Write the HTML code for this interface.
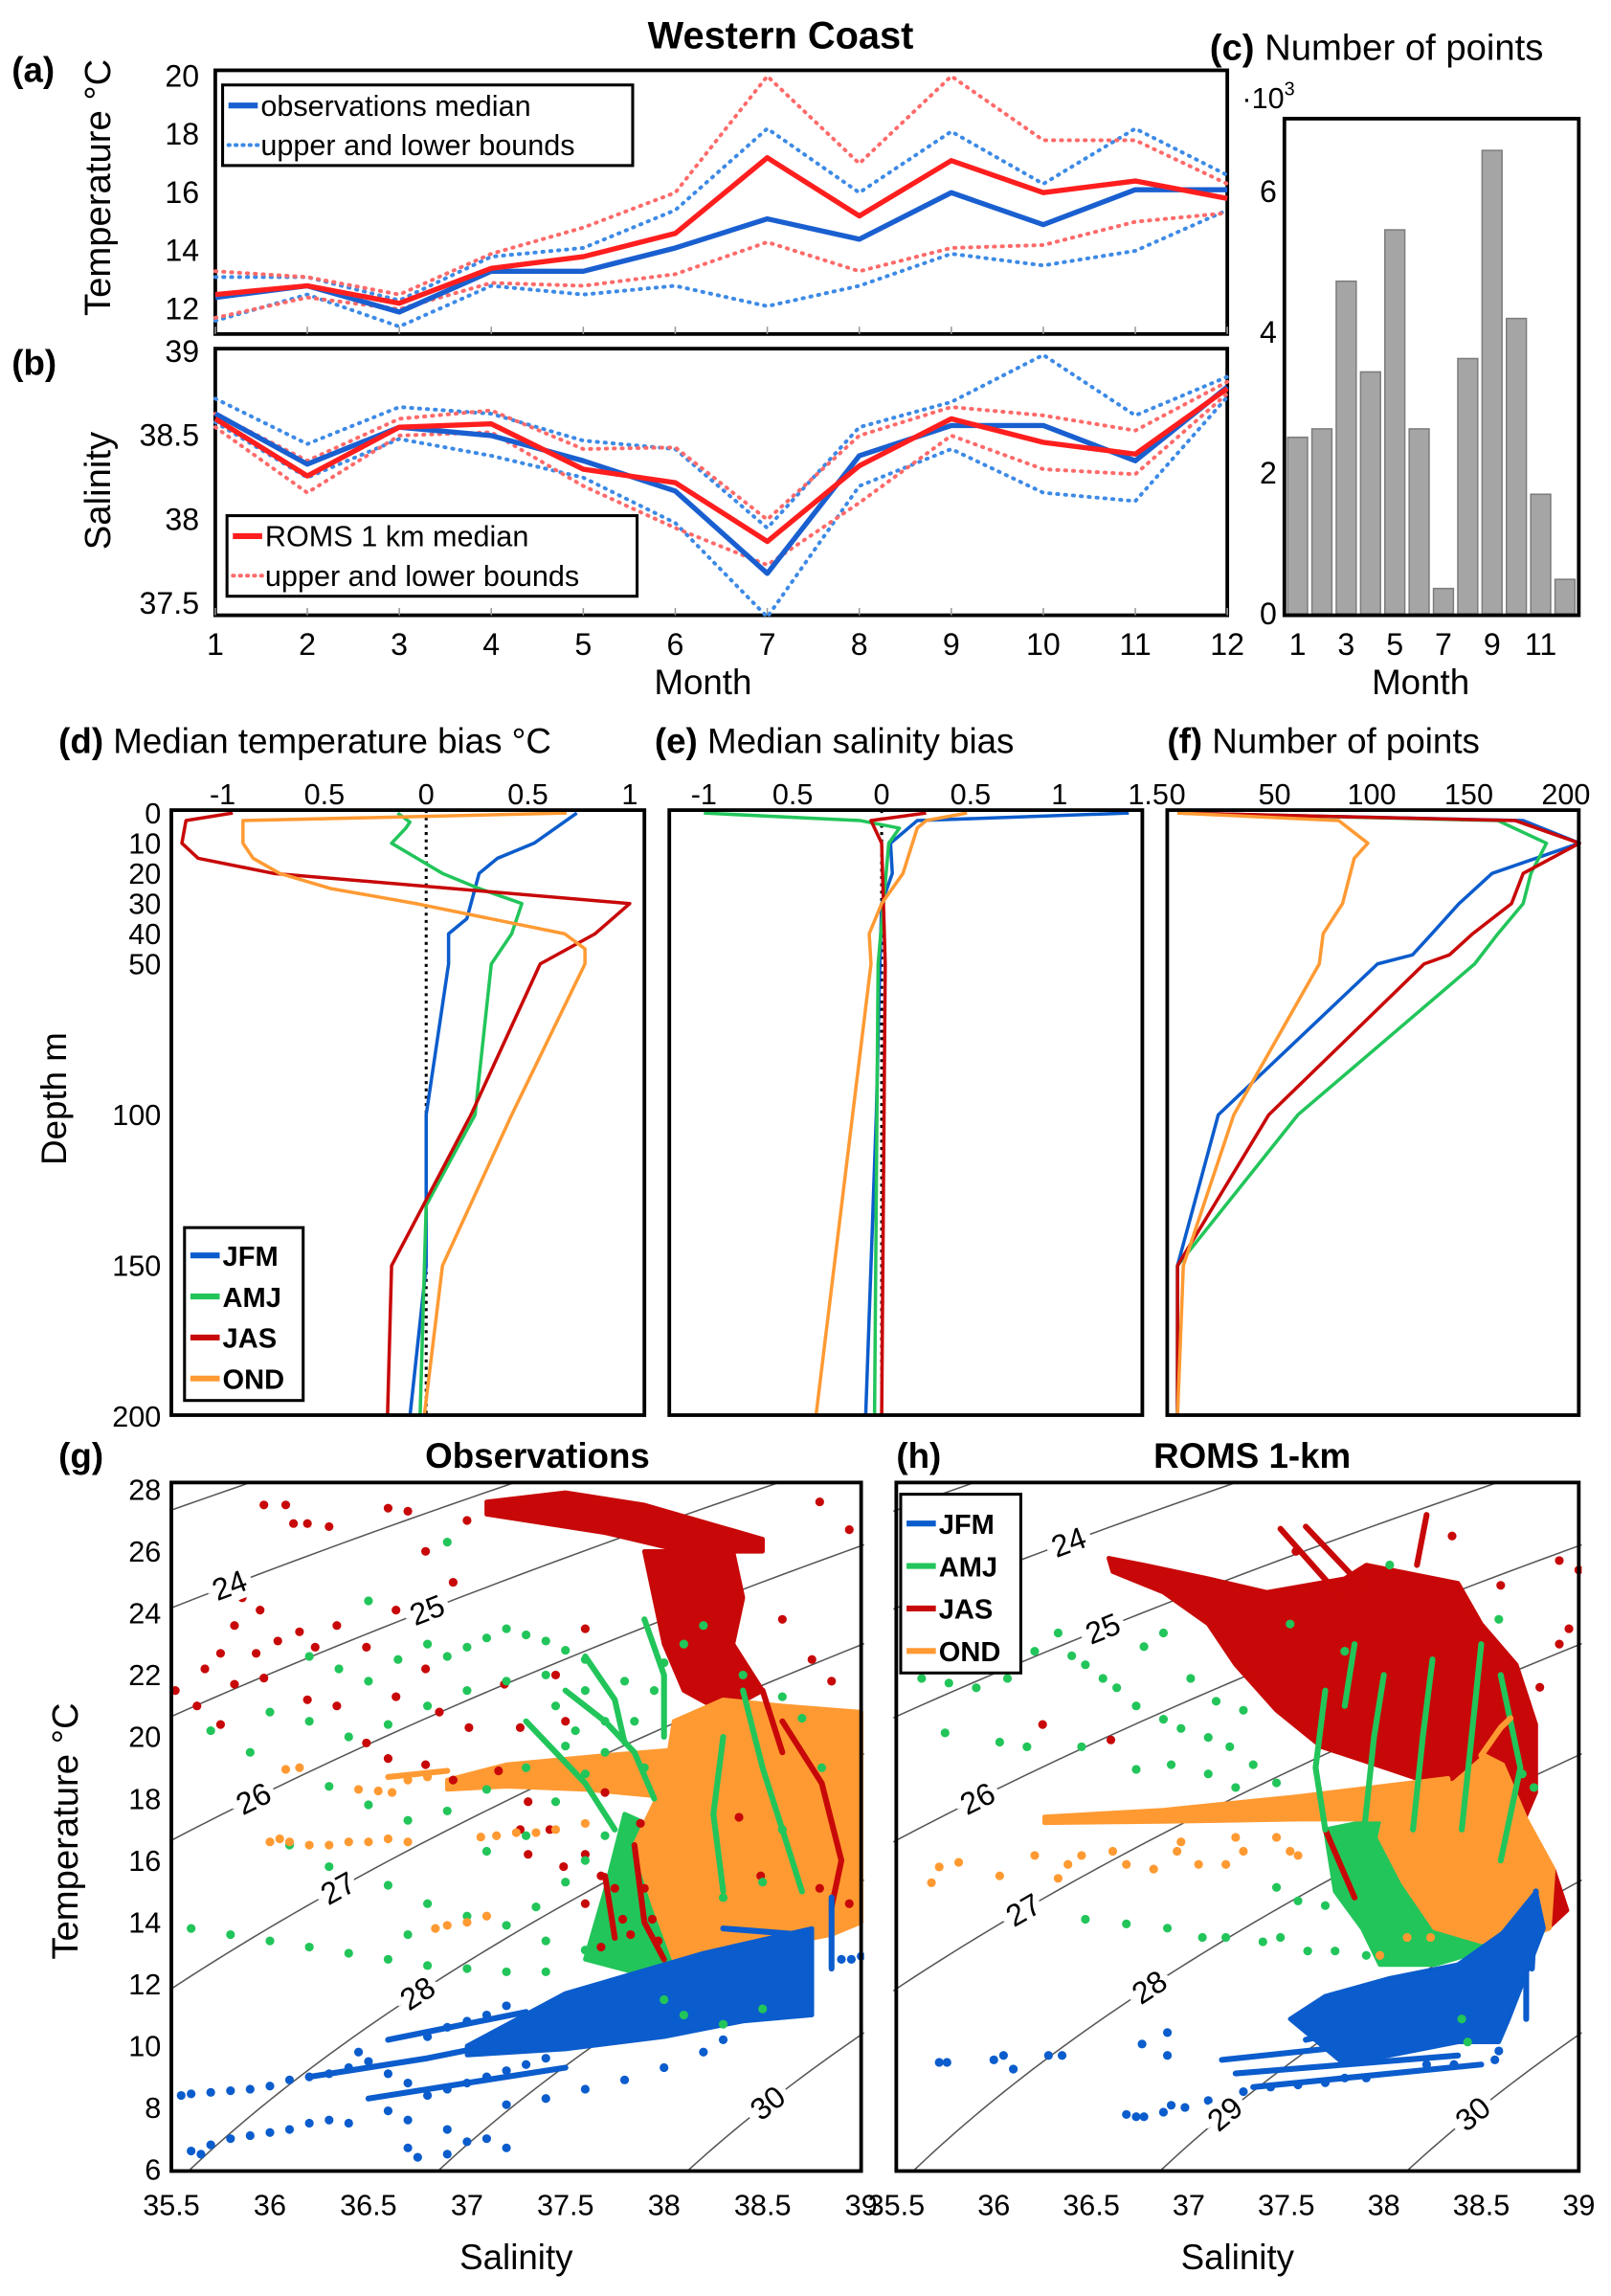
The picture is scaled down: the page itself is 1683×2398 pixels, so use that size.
<!DOCTYPE html>
<html><head><meta charset="utf-8"><title>Western Coast</title>
<style>
html,body{margin:0;padding:0;background:#fff;}
svg{display:block;font-family:"Liberation Sans",Arial,sans-serif;}
</style></head>
<body>
<svg id="fig" xmlns="http://www.w3.org/2000/svg" width="1683" height="2398" viewBox="0 0 1100 1567.3" preserveAspectRatio="none">
<rect x="0" y="0" width="1100" height="1567.3" fill="#fff"/>
<defs>
<clipPath id="clipG"><rect x="117" y="1012" width="473" height="470"/></clipPath>
<clipPath id="clipH"><rect x="610" y="1012" width="470" height="470"/></clipPath>
</defs>
</svg>
<script>
// ---------------- DATA ----------------
const months=[1,2,3,4,5,6,7,8,9,10,11,12];
const tempObsMed=[12.4,12.8,11.9,13.3,13.3,14.1,15.1,14.4,16.0,14.9,16.1,16.1];
const tempObsUp=[13.1,13.1,12.3,13.8,14.1,15.4,18.2,16.0,18.1,16.3,18.2,16.6];
const tempObsLo=[11.6,12.5,11.4,12.8,12.5,12.8,12.1,12.8,13.9,13.5,14.0,15.4];
const tempRomsMed=[12.5,12.8,12.2,13.4,13.8,14.6,17.2,15.2,17.1,16.0,16.4,15.8];
const tempRomsUp=[13.3,13.1,12.5,13.9,14.8,16.0,20.0,17.0,20.0,17.8,17.8,16.3];
const tempRomsLo=[11.7,12.4,12.0,12.9,12.8,13.2,14.3,13.3,14.1,14.2,15.0,15.3];
const salObsMed=[38.63,38.33,38.55,38.5,38.35,38.17,37.68,38.38,38.56,38.56,38.35,38.79];
const salObsUp=[38.72,38.45,38.67,38.63,38.47,38.42,37.95,38.55,38.7,38.98,38.62,38.85];
const salObsLo=[38.58,38.25,38.48,38.38,38.25,37.98,37.42,38.2,38.42,38.16,38.11,38.73];
const salRomsMed=[38.6,38.26,38.55,38.57,38.3,38.22,37.87,38.32,38.6,38.46,38.39,38.78];
const salRomsUp=[38.63,38.35,38.6,38.65,38.42,38.43,38.0,38.5,38.67,38.62,38.53,38.82];
const salRomsLo=[38.55,38.16,38.5,38.52,38.2,37.95,37.73,38.1,38.5,38.3,38.27,38.75];
const pointCounts=[2.51,2.63,4.73,3.44,5.46,2.63,0.36,3.63,6.59,4.2,1.70,0.49];

const jfmTDepth=[0,10,15,20,30,35,40,50,100,150,200];
const jfmT=[0.74,0.53,0.35,0.26,0.22,0.2,0.11,0.11,0,0,-0.08];
const amjTDepth=[0,3,5,10,20,25,30,40,50,100,130,200];
const amjT=[-0.14,-0.08,-0.1,-0.17,0.08,0.26,0.47,0.42,0.32,0.24,0.0,-0.03];
const jasTDepth=[0,2.5,10,15,20,30,40,50,100,150,200];
const jasT=[-0.95,-1.18,-1.2,-1.12,-0.75,1.0,0.83,0.56,0.22,-0.17,-0.19];
const ondTDepth=[0,2.5,10,15,20,25,30,40,45,50,100,150,200];
const ondT=[0.69,-0.9,-0.9,-0.85,-0.72,-0.47,-0.05,0.68,0.78,0.78,0.42,0.08,-0.01];

const jfmSDepth=[0,2.5,10,20,30,50,100,200];
const jfmS=[1.39,0.2,0.05,0.06,0.0,-0.01,-0.03,-0.09];
const amjSDepth=[0,2.5,5,10,50,200];
const amjS=[-1.0,-0.12,0.1,0.04,-0.02,-0.04];
const jasSDepth=[0,2.5,10,50,200];
const jasS=[0.25,-0.06,0,0.02,0.0];
const ondSDepth=[0,2.5,5,20,30,40,50,200];
const ondS=[0.48,0.25,0.2,0.12,0,-0.07,-0.06,-0.37];

const jfmNDepth=[0,2.5,10,20,30,40,47,50,100,150,200];
const jfmN=[0,178,207,162,145,131,121,103,21,0,0];
const amjNDepth=[0,2.5,10,20,30,40,50,100,150,200];
const amjN=[0,165,190,182,178,165,153,62,0,0];
const jasNDepth=[0,2.5,10,20,30,40,47,50,100,150,200];
const jasN=[0,174,207,178,172,152,140,127,47,0,0];
const ondNDepth=[0,2.5,10,15,20,30,40,50,100,150,200];
const ondN=[0,83,98,91,89,85,75,73,29,3,0];

const depthTicks=[0,10,20,30,40,50,100,150,200];
const tempBiasTicks=[-1,-0.5,0,0.5,1];
const tempBiasLabels=["-1","0.5","0","0.5","1"];
const salBiasTicks=[-1,-0.5,0,0.5,1,1.5];
const salBiasLabels=["-1","0.5","0","0.5","1","1.5"];
const countTicks=[0,50,100,150,200];

const sigmaLevels=[23,24,25,26,27,28,29,30];
const gLabelLevels=[24,25,26,27,28,30];
const gLabelT=[24.9,24.1,18.0,15.1,11.7,8.15];
const hLabelLevels=[24,25,26,27,28,29,30];
const hLabelT=[26.3,23.5,18.0,14.4,11.9,7.8,7.8];
const salTicks=[35.5,36,36.5,37,37.5,38,38.5,39];
const salTickLabels=["35.5","36","36.5","37","37.5","38","38.5","39"];
const tsTempTicks=[6,8,10,12,14,16,18,20,22,24,26,28];

// Observations (g) scatter
const gJASpts=[[35.97,27.5],[36.08,27.5],[36.12,26.9],[36.19,26.9],[36.3,26.8],[35.86,24.5],[35.95,24.1],[35.82,23.6],[35.75,22.7],[35.93,22.7],[36.04,23.1],[36.15,23.4],[36.23,22.9],[36.34,23.6],[36.49,22.9],[35.67,22.2],[35.82,21.7],[35.97,21.9],[36.19,21.2],[36.34,21.0],[36.64,21.3],[36.79,22.2],[36.86,20.8],[37.01,20.3],[36.49,19.8],[36.6,19.3],[36.79,19.1],[36.93,18.6],[37.16,18.9],[37.31,17.9],[37.42,17.0],[37.6,16.2],[37.68,15.5],[37.75,15.1],[37.79,14.1],[37.83,13.6],[37.68,13.2],[37.6,14.6],[37.49,15.8],[37.31,16.2],[37.27,17.0],[37.19,21.7],[37.27,20.3],[36.79,26.0],[36.93,25.0],[36.64,24.1],[35.52,21.5],[35.63,21.0],[35.75,20.4],[37.9,15.1],[37.94,14.1],[37.97,13.4],[37.88,17.2],[38.12,24.1],[38.79,27.6],[38.94,26.7],[38.38,17.4],[38.49,15.5],[38.79,15.1],[38.94,14.6],[36.6,27.4],[36.7,27.3],[37.0,27.0],[37.6,23.5],[37.45,22.0],[38.6,23.8],[38.75,22.5],[38.85,21.8],[37.5,20.5],[37.7,18.2]];
const gJASblobs=[[[37.1,27.6],[37.5,27.9],[37.9,27.5],[38.5,26.4],[38.5,26.0],[38.1,26.0],[37.7,26.6],[37.3,27.0],[37.1,27.2]],[[37.9,26.0],[38.35,26.0],[38.4,24.5],[38.35,23],[38.5,21.5],[38.3,20.8],[38.1,21.5],[38.0,23],[37.95,24.5]]];
const gJASstreaks=[[[37.85,16.5],[37.9,14],[38.0,12.8]],[[37.7,15.5],[37.75,13.5]],[[38.6,20.5],[38.8,18.5],[38.9,16],[38.85,14.5]],[[38.5,21.5],[38.6,19.5]]];
const gAMJpts=[[36.2,22.6],[36.35,22.2],[36.5,21.8],[36.65,22.5],[36.8,23],[36.9,22.6],[37.0,22.9],[37.1,23.2],[37.2,23.5],[37.3,23.3],[37.4,23.1],[37.5,22.8],[37.6,22.5],[36.0,20.8],[36.2,20.5],[36.4,20.0],[36.6,20.4],[36.8,21.0],[37.0,21.5],[37.2,21.8],[37.4,22.0],[37.6,21.5],[37.7,20.5],[37.5,19.7],[37.3,19.0],[37.1,18.3],[36.9,17.6],[36.7,17.3],[36.5,17.8],[36.3,18.4],[35.9,19.5],[35.7,20.2],[36.1,16.5],[36.3,15.8],[36.6,15.2],[36.8,14.6],[37.0,14.2],[37.2,13.9],[37.4,13.4],[37.6,13.1],[35.6,13.8],[35.8,13.6],[36.0,13.4],[36.2,13.2],[36.4,13.0],[36.6,12.8],[36.8,12.6],[37.0,12.5],[37.2,12.4],[37.4,12.4],[37.35,14.5],[37.5,15.3],[37.6,16.0],[37.7,16.8],[36.7,13.6],[37.1,16.3],[37.3,16.8],[37.45,17.9],[37.6,18.8],[37.7,19.5],[37.85,20.5],[37.95,21.5],[38.0,22.4],[38.1,23.0],[38.2,23.6],[38.4,22.0],[38.6,21.3],[38.7,20.6],[38.8,19.0],[38.6,17.0],[38.5,15.3],[38.3,14.8],[38.0,11.5],[38.1,11.0],[38.5,11.2],[38.3,10.7],[36.9,26.3],[36.5,24.4],[37.45,21.0],[37.55,20.2],[37.8,21.8],[37.9,19.0]];
const gAMJblobs=[[[37.8,17.5],[38.15,16.5],[38.15,12.4],[37.9,12.3],[37.6,12.8],[37.7,15]]];
const gAMJstreaks=[[[37.5,21.5],[37.7,20.5],[37.85,19.5],[37.95,18]],[[37.6,22.6],[37.75,21.2],[37.8,19.8]],[[37.9,23.8],[38.0,22],[38.0,20]],[[38.4,21.5],[38.5,19],[38.6,17],[38.7,15]],[[37.3,20.5],[37.6,18.5],[37.75,17]],[[38.3,20],[38.25,17.5],[38.3,15]]];
const gONDpts=[[36.08,18.95],[36.15,19.0],[36.45,18.3],[36.55,18.25],[36.62,18.2],[36.0,16.6],[36.05,16.7],[36.1,16.6],[36.2,16.5],[36.3,16.5],[36.4,16.6],[36.5,16.6],[36.6,16.7],[36.7,16.6],[36.84,13.8],[36.9,13.9],[37.0,14.0],[37.1,14.2],[37.07,16.76],[37.15,16.8],[37.25,16.9],[37.35,16.9],[37.45,17.0],[37.6,17.2],[36.7,18.6],[36.8,18.7]];
const gONDblobs=[[[36.9,18.6],[37.2,19.1],[37.7,19.4],[38.1,19.6],[38.1,18.0],[37.6,18.3],[37.2,18.4],[36.9,18.3]],[[38.05,20.5],[38.3,21.2],[38.6,21.0],[39.0,20.8],[39.0,14],[38.85,13.6],[38.6,13.3],[38.2,12.8],[38.05,12.8],[37.95,14.5],[37.85,16.5],[38.0,18.5]]];
const gONDstreaks=[[[36.6,18.7],[36.9,18.9]]];
const gJFMpts=[[35.55,8.4],[35.6,8.45],[35.7,8.5],[35.8,8.55],[35.9,8.6],[36.0,8.7],[36.1,8.9],[36.2,9.0],[36.3,9.1],[36.4,9.3],[36.45,9.8],[36.5,9.5],[36.6,9.1],[36.7,8.8],[36.8,8.4],[36.9,8.6],[37.0,8.8],[37.1,9.0],[37.2,9.2],[37.3,9.4],[37.4,9.6],[35.6,6.6],[35.7,6.8],[35.8,7.0],[35.9,7.1],[36.0,7.2],[36.1,7.3],[36.2,7.5],[36.3,7.6],[36.4,7.5],[35.65,6.5],[36.6,7.9],[36.7,7.6],[36.9,7.3],[37.0,6.9],[37.1,7.0],[37.2,6.7],[36.9,6.5],[37.2,8.1],[37.4,8.3],[37.6,8.6],[37.8,8.9],[38.0,9.3],[38.2,9.8],[38.3,10.2],[36.8,10.3],[36.9,10.6],[37.0,10.8],[37.1,11.0],[37.2,11.3],[36.7,6.7],[36.75,6.4],[38.9,12.8],[38.95,12.8],[39.0,12.9]];
const gJFMblobs=[[[37.5,11.7],[38.2,13.0],[38.75,13.8],[38.75,11.0],[38.4,10.8],[38.0,10.3],[37.5,9.9],[37.0,9.7],[37.0,10.0]]];
const gJFMstreaks=[[[36.2,9.0],[36.8,9.6],[37.5,10.5]],[[36.5,8.3],[37.0,8.8],[37.5,9.3]],[[38.85,12.5],[38.85,14.8]],[[36.6,10.2],[37.3,11.1]],[[38.3,13.8],[38.7,13.6]]];

// ROMS (h) scatter
const hJASpts=[[36.6,19.9],[36.25,20.4],[38.9,25.7],[39.0,25.4],[38.95,23.5],[38.9,23.0],[38.35,26.5],[38.6,24.9],[37.55,26.0],[38.8,21.6]];
const hJASblobs=[[[36.59,25.78],[36.77,25.56],[37.10,25.12],[37.40,24.68],[37.80,25.12],[37.91,25.56],[38.38,24.97],[38.50,23.65],[38.68,22.33],[38.78,20.4],[38.78,18.2],[38.68,16.74],[38.87,15.72],[38.94,14.39],[38.84,13.8],[38.73,15.28],[38.54,16.45],[38.38,18.2],[38.03,18.95],[37.68,19.68],[37.45,20.86],[37.24,22.33],[37.10,23.65],[36.87,24.68],[36.61,25.34]]];
const hJASstreaks=[[[37.47,26.73],[37.8,24.38]],[[37.6,26.8],[37.9,24.8]],[[38.22,27.18],[38.17,25.56]],[[37.7,17.0],[37.85,14.8]]];
const hAMJpts=[[35.63,21.89],[35.77,21.74],[35.91,21.59],[36.07,21.89],[36.21,22.77],[36.33,23.36],[36.40,22.62],[36.47,22.33],[36.56,21.89],[36.63,21.59],[36.73,21.0],[36.87,20.57],[36.96,20.27],[37.1,19.98],[37.21,19.68],[37.33,19.1],[37.45,18.51],[35.75,20.13],[36.03,19.83],[36.17,19.68],[36.45,19.68],[36.73,18.95],[36.91,19.1],[37.1,18.8],[37.24,18.36],[37.45,15.13],[37.56,14.69],[37.7,14.54],[37.84,14.4],[37.38,13.37],[37.19,13.51],[37.07,13.51],[36.89,13.81],[36.68,13.95],[36.47,14.1],[37.47,13.51],[37.61,13.07],[37.75,13.07],[37.91,12.93],[36.87,23.36],[36.77,22.92],[37.01,21.89],[37.14,21.15],[37.28,20.86],[37.52,23.65],[37.8,22.77],[38.03,25.56],[38.59,23.8],[38.71,18.8],[38.77,18.36],[38.43,10.13],[38.4,10.87]];
const hAMJblobs=[[[37.7,17.0],[38.1,17.5],[38.4,17.0],[38.6,15],[38.66,13.8],[38.5,13.07],[38.26,12.63],[37.98,12.63],[37.89,13.8],[37.75,15.0]]];
const hAMJstreaks=[[[37.7,17],[37.65,19],[37.7,21.5]],[[37.9,17],[37.95,20],[38.0,22]],[[38.15,17],[38.2,20],[38.25,22.5]],[[38.4,17],[38.45,20],[38.5,23]],[[38.6,16],[38.7,19],[38.6,22]],[[37.8,21],[37.85,23]]];
const hONDpts=[[35.68,15.28],[35.72,15.79],[35.82,15.94],[36.03,15.5],[36.21,16.16],[36.33,15.42],[36.38,15.87],[36.45,16.16],[36.61,16.3],[36.68,15.87],[36.82,15.72],[36.94,16.3],[36.96,16.6],[37.05,15.87],[37.19,15.87],[37.24,16.75],[37.28,16.3],[37.45,16.75],[37.52,16.3],[37.56,16.16],[38.12,13.51],[38.24,13.51],[37.98,12.93]];
const hONDblobs=[[[36.26,17.41],[36.87,17.63],[37.56,18.07],[38.33,18.66],[38.36,17.33],[37.56,17.33],[36.87,17.26],[36.26,17.22]],[[38.03,18.22],[38.36,18.51],[38.52,19.39],[38.61,19.1],[38.73,17.33],[38.87,15.72],[38.85,13.81],[38.73,13.51],[38.5,13.37],[38.26,13.81],[38.1,15.28],[37.98,16.75]]];
const hONDstreaks=[[[38.5,19.4],[38.6,20.3],[38.65,20.6]]];
const hJFMpts=[[35.72,9.47],[35.76,9.47],[36.0,9.55],[36.05,9.69],[36.1,9.25],[36.28,9.69],[36.35,9.69],[36.76,10.06],[36.89,10.43],[36.89,9.69],[36.68,7.78],[36.73,7.71],[36.77,7.71],[36.87,7.86],[36.91,8.08],[36.98,8.01],[37.1,8.23],[37.28,8.52],[37.42,8.67],[37.56,8.74],[37.7,8.81],[37.8,8.96],[37.91,8.96],[38.22,9.4],[38.36,9.4],[38.57,9.55],[38.59,9.84]];
const hJFMblobs=[[[37.7,11.61],[38.03,12.19],[38.38,12.63],[38.61,13.66],[38.78,14.98],[38.82,13.81],[38.73,12.34],[38.64,10.87],[38.59,10.13],[38.38,10.13],[38.03,9.69],[37.8,9.4],[37.52,10.87]]];
const hJFMstreaks=[[[37.17,9.55],[38.5,10.43]],[[37.24,9.11],[38.38,9.69]],[[37.33,8.67],[38.5,9.4]],[[38.73,13.8],[38.73,10.87]],[[38.78,15.0],[38.76,12.5]],[[37.6,10.2],[38.4,11.3]]];

// ---------------- HELPERS ----------------
const NS='http://www.w3.org/2000/svg';
const svg=document.getElementById('fig');
function mk(tag,attrs,parent){const e=document.createElementNS(NS,tag);for(const k in attrs)e.setAttribute(k,attrs[k]);(parent||svg).appendChild(e);return e;}
function group(name,parent){const g=mk('g',{},parent);


return g;}
function text(parent,x,y,s,size,extra){const a={x:x,y:y,'font-size':size,fill:'#000'};if(extra)for(const k in extra)a[k]=extra[k];const t=mk('text',a,parent);t.textContent=s;return t;}
const C={blue:'#0b5ccc',green:'#22c55a',red:'#c80808',orange:'#ff9a33'};

// ---------------- TITLE ----------------
let t=text(svg,533,33,'Western Coast',26,{'font-weight':'bold','text-anchor':'middle'});



// ---------------- PANELS A & B ----------------
const ax0=147, ax1=838;
function mx(m){return ax0+(m-1)*(ax1-ax0)/11;}
function tyA(v){return 211-(v-12)*19.875;}
function syB(v){return 240+(39-v)*114.7;}
function linePath(xs,ys,fx,fy){return xs.map((v,i)=>(i?'L':'M')+fx(v).toFixed(2)+' '+fy(ys[i]).toFixed(2)).join(' ');}

function drawMonthly(name,top,bottom,fy,series,ticks,tickLabels){
 const g=group(name);
 let r=mk('rect',{x:ax0,y:top,width:ax1-ax0,height:bottom-top,fill:'none',stroke:'#000','stroke-width':2.5},g);
 
 
 for(const m of months){
  let tk=mk('line',{x1:mx(m),x2:mx(m),y1:bottom,y2:bottom-5,stroke:'#999','stroke-width':1},g);
  
  
 }
 ticks.forEach((v,i)=>{
  let tl=text(g,136,fy(v)+7,tickLabels[i],21,{'text-anchor':'end'});
  
  
 });
 for(const s of series){
  let p=mk('path',{d:linePath(months,s.v,mx,fy),fill:'none',stroke:s.c,'stroke-width':s.w,'stroke-dasharray':s.dash||'none','stroke-linecap':s.dash?'round':'butt','stroke-linejoin':'round'},g);
  
  
 }
 return g;
}
const DOT='0.8 4.6';
const gA=drawMonthly('panel-a-temperature',48,228,tyA,[
 {v:tempObsUp,c:'#3d8ae6',w:2.6,dash:DOT,n:'obs-temp-upper'},
 {v:tempObsLo,c:'#3d8ae6',w:2.6,dash:DOT,n:'obs-temp-lower'},
 {v:tempRomsUp,c:'#ff6a6a',w:2.6,dash:DOT,n:'roms-temp-upper'},
 {v:tempRomsLo,c:'#ff6a6a',w:2.6,dash:DOT,n:'roms-temp-lower'},
 {v:tempObsMed,c:'#1a5fd0',w:3.5,n:'obs-temp-median'},
 {v:tempRomsMed,c:'#ff1e1e',w:3.5,n:'roms-temp-median'}],[12,14,16,18,20],['12','14','16','18','20']);
const gB=drawMonthly('panel-b-salinity',238,420,syB,[
 {v:salObsUp,c:'#3d8ae6',w:2.6,dash:DOT,n:'obs-sal-upper'},
 {v:salObsLo,c:'#3d8ae6',w:2.6,dash:DOT,n:'obs-sal-lower'},
 {v:salRomsUp,c:'#ff6a6a',w:2.6,dash:DOT,n:'roms-sal-upper'},
 {v:salRomsLo,c:'#ff6a6a',w:2.6,dash:DOT,n:'roms-sal-lower'},
 {v:salObsMed,c:'#1a5fd0',w:3.5,n:'obs-sal-median'},
 {v:salRomsMed,c:'#ff1e1e',w:3.5,n:'roms-sal-median'}],[37.5,38,38.5,39],['37.5','38','38.5','39']);
for(const m of months){
 let tl=text(svg,mx(m),447,String(m),21,{'text-anchor':'middle'});
 
 
}
t=text(svg,480,474,'Month',24,{'text-anchor':'middle'});


t=text(svg,8,56,'(a)',24,{'font-weight':'bold'});


t=text(svg,8,256,'(b)',24,{'font-weight':'bold'});


t=text(svg,0,0,'Temperature °C',25,{'text-anchor':'middle',transform:'translate(75,128) rotate(-90)'});


t=text(svg,0,0,'Salinity',25,{'text-anchor':'middle',transform:'translate(75,335) rotate(-90)'});



function legendBox(parent,name,x,y,w,h,entries,size,bold){
 const g=group(name,parent);
 let r=mk('rect',{x:x,y:y,width:w,height:h,fill:'#fff',stroke:'#000','stroke-width':2},g);
 
 
 entries.forEach((e,i)=>{
  const yy=y+e.dy;
  let l=mk('line',{x1:x+4,x2:x+24,y1:yy,y2:yy,stroke:e.c,'stroke-width':e.dash?2.6:4,'stroke-dasharray':e.dash||'none','stroke-linecap':e.dash?'round':'butt'},g);
  
  
  let tt=text(g,x+26,yy+7,e.t,size,bold?{'font-weight':'bold'}:{});
  
  
 });
}
legendBox(gA,'legend-observations',152,58,280,55,[{t:'observations median',c:'#1a5fd0',dy:14},{t:'upper and lower bounds',c:'#3d8ae6',dash:'0.8 4',dy:41}],20);
legendBox(gB,'legend-roms',155,352,280,55,[{t:'ROMS 1 km median',c:'#ff1e1e',dy:14},{t:'upper and lower bounds',c:'#ff6a6a',dash:'0.8 4',dy:41}],20);

// ---------------- PANEL C ----------------
const gC=group('panel-c-number-of-points');
function cx(m){return 886+(m-1)*16.6;}
function cy(v){return 419-v*48;}
months.forEach((m,i)=>{
 let b=mk('rect',{x:cx(m)-6.8,y:cy(pointCounts[i]),width:13.6,height:419-cy(pointCounts[i]),fill:'#a5a5a5',stroke:'#7d7d7d','stroke-width':1},gC);
 
 
});
let rc=mk('rect',{x:877,y:81,width:201,height:339,fill:'none',stroke:'#000','stroke-width':2.5},gC);


[0,2,4,6].forEach(v=>{
 let tl=text(gC,866,cy(v)+7,String(v),21,{'text-anchor':'middle'});
 
 
});
[1,3,5,7,9,11].forEach(m=>{
 let tl=text(gC,cx(m),447,String(m),21,{'text-anchor':'middle'});
 
 
});
t=text(gC,970,474,'Month',24,{'text-anchor':'middle'});


t=text(gC,826,41,'',25,{});
t.innerHTML='<tspan font-weight="bold">(c)</tspan> Number of points';


t=text(gC,848,74,'',20,{});
t.innerHTML='·10<tspan font-size="13" dy="-9">3</tspan>';



// ---------------- PANELS D E F ----------------
function dy(d){return 555+d*2.06;}
function profilePanel(name,x0,x1,fx,ticks,labels,series,zeroLine){
 const g=group(name);
 if(zeroLine){
  let z=mk('line',{x1:fx(0),x2:fx(0),y1:553,y2:966,stroke:'#000','stroke-width':2,'stroke-dasharray':'2 3'},g);
  
  
 }
 for(const s of series){
  let p=mk('path',{d:linePath(s.v,s.d,fx,dy),fill:'none',stroke:s.c,'stroke-width':2.3,'stroke-linejoin':'round'},g);
  
  
 }
 let r=mk('rect',{x:x0,y:553,width:x1-x0,height:413,fill:'none',stroke:'#000','stroke-width':2.5},g);
 
 
 ticks.forEach((v,i)=>{
  let tl=text(g,fx(v),549,labels[i],20,{'text-anchor':'middle'});
  
  
 });
 return g;
}
const fxD=v=>291+v*139, fxE=v=>602+v*121.4, fxF=v=>804+v*1.326;
const gD=profilePanel('panel-d-temperature-bias',117,440,fxD,tempBiasTicks,tempBiasLabels,[
 {v:jfmT,d:jfmTDepth,c:C.blue,n:'jfm-temp-bias'},{v:amjT,d:amjTDepth,c:C.green,n:'amj-temp-bias'},
 {v:jasT,d:jasTDepth,c:C.red,n:'jas-temp-bias'},{v:ondT,d:ondTDepth,c:C.orange,n:'ond-temp-bias'}],true);
const gE=profilePanel('panel-e-salinity-bias',457,780,fxE,salBiasTicks,salBiasLabels,[
 {v:jfmS,d:jfmSDepth,c:C.blue,n:'jfm-sal-bias'},{v:amjS,d:amjSDepth,c:C.green,n:'amj-sal-bias'},
 {v:jasS,d:jasSDepth,c:C.red,n:'jas-sal-bias'},{v:ondS,d:ondSDepth,c:C.orange,n:'ond-sal-bias'}],true);
const gF=profilePanel('panel-f-number-of-points',797,1078,fxF,countTicks,countTicks.map(String),[
 {v:jfmN,d:jfmNDepth,c:C.blue,n:'jfm-count'},{v:amjN,d:amjNDepth,c:C.green,n:'amj-count'},
 {v:jasN,d:jasNDepth,c:C.red,n:'jas-count'},{v:ondN,d:ondNDepth,c:C.orange,n:'ond-count'}],false);
depthTicks.forEach(v=>{
 let tl=text(svg,110,dy(v)+7,String(v),20,{'text-anchor':'end'});
 
 
});
t=text(svg,0,0,'Depth m',24,{'text-anchor':'middle',transform:'translate(45,750) rotate(-90)'});


t=text(svg,40,514,'',24,{});
t.innerHTML='<tspan font-weight="bold">(d)</tspan> Median temperature bias °C';


t=text(svg,447,514,'',24,{});
t.innerHTML='<tspan font-weight="bold">(e)</tspan> Median salinity bias';


t=text(svg,797,514,'',24,{});
t.innerHTML='<tspan font-weight="bold">(f)</tspan> Number of points';


const seasonEntries=[{t:'JFM',c:C.blue,dy:19},{t:'AMJ',c:C.green,dy:47},{t:'JAS',c:C.red,dy:75},{t:'OND',c:C.orange,dy:103}];
legendBox(gD,'legend-seasons-d',126,838,81,118,seasonEntries,19,true);

// ---------------- PANELS G H ----------------
function sAt(level,T){return 35+(level-(28.14-0.0735*T-0.00469*T*T))/(0.802-0.002*T);}
function tsPanel(name,x0,x1,clip,data,labLevels,labT){
 const g=group(name);
 const fx=S=>x0+(S-35.5)*(x1-x0)/3.5, fy=T=>1481-(T-6)*21.1;
 const cg=mk('g',{'clip-path':'url(#'+clip+')'},g);
 
 
 for(const L of sigmaLevels){
  let d='';
  for(let T=5.5;T<=28.5;T+=0.25){d+=(d?'L':'M')+fx(sAt(L,T)).toFixed(2)+' '+fy(T).toFixed(2);}
  let p=mk('path',{d:d,fill:'none',stroke:'#555','stroke-width':1},cg);
  
  
 }
 const order=['JAS','AMJ','OND','JFM'];
 const col={JAS:C.red,AMJ:C.green,OND:C.orange,JFM:C.blue};
 for(const k of order){
  for(const poly of data[k].blobs){
   let p=mk('polygon',{points:poly.map(q=>fx(q[0]).toFixed(1)+','+fy(q[1]).toFixed(1)).join(' '),fill:col[k],stroke:col[k],'stroke-width':3,'stroke-linejoin':'round'},cg);
   
   
  }
 }
 for(const k of order){
  for(const st of data[k].streaks){
   let p=mk('polyline',{points:st.map(q=>fx(q[0]).toFixed(1)+','+fy(q[1]).toFixed(1)).join(' '),fill:'none',stroke:col[k],'stroke-width':4,'stroke-linecap':'round','stroke-linejoin':'round'},cg);
   
   
  }
 }
 for(const k of order){
  for(const q of data[k].pts){
   let c=mk('circle',{cx:fx(q[0]).toFixed(1),cy:fy(q[1]).toFixed(1),r:3,fill:col[k]},cg);
   
   
  }
 }
 labLevels.forEach((L,i)=>{
  const T=labT[i], S=sAt(L,T);
  const dx=fx(sAt(L,T+0.5))-fx(sAt(L,T-0.5)), dyy=fy(T+0.5)-fy(T-0.5);
  const ang=Math.atan2(dyy,dx)*180/Math.PI;
  let tl=text(cg,0,0,String(L),21,{'text-anchor':'middle','dominant-baseline':'central',stroke:'#fff','stroke-width':9,'paint-order':'stroke',transform:'translate('+fx(S).toFixed(1)+','+fy(T).toFixed(1)+') rotate('+ang.toFixed(1)+')'});
  
  
 });
 let r=mk('rect',{x:x0,y:1012,width:x1-x0,height:470,fill:'none',stroke:'#000','stroke-width':2.5},g);
 
 
 salTicks.forEach((v,i)=>{
  let tl=text(g,fx(v),1512,salTickLabels[i],20,{'text-anchor':'middle'});
  
  
 });
 let at=text(g,(x0+x1)/2,1549,'Salinity',24,{'text-anchor':'middle'});
 
 
 return g;
}
const gG=tsPanel('panel-g-observations',117,588,'clipG',{
 JAS:{pts:gJASpts,blobs:gJASblobs,streaks:gJASstreaks},AMJ:{pts:gAMJpts,blobs:gAMJblobs,streaks:gAMJstreaks},
 OND:{pts:gONDpts,blobs:gONDblobs,streaks:gONDstreaks},JFM:{pts:gJFMpts,blobs:gJFMblobs,streaks:gJFMstreaks}},gLabelLevels,gLabelT);
const gH=tsPanel('panel-h-roms',612,1078,'clipH',{
 JAS:{pts:hJASpts,blobs:hJASblobs,streaks:hJASstreaks},AMJ:{pts:hAMJpts,blobs:hAMJblobs,streaks:hAMJstreaks},
 OND:{pts:hONDpts,blobs:hONDblobs,streaks:hONDstreaks},JFM:{pts:hJFMpts,blobs:hJFMblobs,streaks:hJFMstreaks}},hLabelLevels,hLabelT);
tsTempTicks.forEach(v=>{
 let tl=text(svg,110,1481-(v-6)*21.1+7,String(v),20,{'text-anchor':'end'});
 
 
});
t=text(svg,0,0,'Temperature °C',25,{'text-anchor':'middle',transform:'translate(53,1250) rotate(-90)'});


t=text(svg,40,1002,'(g)',24,{'font-weight':'bold'});


t=text(svg,367,1002,'Observations',24,{'font-weight':'bold','text-anchor':'middle'});


t=text(svg,612,1002,'(h)',24,{'font-weight':'bold'});


t=text(svg,855,1002,'ROMS 1-km',24,{'font-weight':'bold','text-anchor':'middle'});


legendBox(gH,'legend-seasons-h',615,1020,82,122,[{t:'JFM',c:C.blue,dy:20},{t:'AMJ',c:C.green,dy:49},{t:'JAS',c:C.red,dy:78},{t:'OND',c:C.orange,dy:107}],19,true);
</script>
</body></html>
